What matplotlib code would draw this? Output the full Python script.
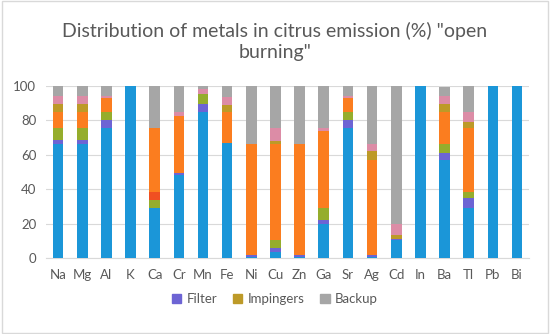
import numpy as np
import matplotlib.pyplot as plt
from matplotlib.patches import Rectangle

metals = ["Na", "Mg", "Al", "K", "Ca", "Cr", "Mn", "Fe", "Ni", "Cu",
          "Zn", "Ga", "Sr", "Ag", "Cd", "In", "Ba", "Tl", "Pb", "Bi"]

# segments from bottom to top (percent)
filter_a   = [66.3, 66.3, 75.8, 100, 29.3, 48.3, 85.1, 66.7, 0.5, 3.5,
              0.5, 19.8, 75.8, 0.5, 10.5, 100, 57.0, 29.3, 100, 100]
filter_b   = [2.3, 2.3, 4.4, 0, 0, 0.9, 4.2, 0.4, 1.0, 2.5,
              1.0, 2.3, 4.5, 1.2, 0.5, 0, 3.9, 5.4, 0, 0]
imp_green  = [6.8, 6.8, 4.9, 0, 4.4, 0, 6.3, 0, 0, 4.5,
              0, 6.8, 4.8, 0, 0, 0, 5.4, 3.5, 0, 0]
imp_red    = [0, 0, 0, 0, 4.5, 0, 0, 0, 0, 0,
              0, 0, 0, 0, 0, 0, 0, 0, 0, 0]
imp_orange = [9.7, 9.7, 8.1, 0, 37.6, 33.6, 0, 18.0, 64.8, 55.8,
              64.8, 45.0, 7.8, 55.3, 0, 0, 18.8, 37.2, 0, 0]
impingers  = [4.2, 4.2, 0, 0, 0, 0, 0, 3.9, 0, 1.9,
              0, 0, 0, 5.4, 2.3, 0, 4.3, 3.9, 0, 0]
back_pink  = [4.9, 4.9, 1.0, 0, 0, 2.3, 2.4, 4.8, 0, 7.2,
              0, 1.5, 1.0, 3.7, 6.5, 0, 4.5, 5.8, 0, 0]
backup     = [5.8, 5.8, 5.8, 0, 24.2, 14.9, 2.0, 6.2, 33.7, 24.6,
              33.7, 24.6, 6.1, 33.9, 80.2, 0, 5.8, 14.9, 0, 0]

series = [filter_a, filter_b, imp_green, imp_red, imp_orange, impingers, back_pink, backup]
colors = ["#1b96d8", "#6d64d4", "#95ad2c", "#f04f22", "#fb7d1f", "#bd9a28", "#dc8ca6", "#a6a6a6"]

plt.rcParams['font.family'] = ['Lato', 'DejaVu Sans']

fig = plt.figure(figsize=(5.5, 3.34), dpi=100)
fig.patches.append(Rectangle((0.004, 0.004), 0.992, 0.992, transform=fig.transFigure,
                             fill=False, edgecolor="#d9d9d9", linewidth=1))
ax = fig.add_axes([0.0836, 0.2275, 0.8784, 0.515])

x = np.arange(len(metals))
bottom = np.zeros(len(metals))
for vals, c in zip(series, colors):
    ax.bar(x, vals, width=0.44, bottom=bottom, color=c, zorder=3)
    bottom += np.array(vals)

ax.set_xlim(-0.5, len(metals) - 0.5)
ax.set_ylim(0, 100)
ax.set_yticks(range(0, 101, 20))
ax.set_xticks(x)
ax.set_xticklabels(metals)
ax.grid(axis="y", color="#d9d9d9", linewidth=0.8, zorder=0)
for s in ["top", "right", "left"]:
    ax.spines[s].set_visible(False)
ax.spines["bottom"].set_color("#d9d9d9")
ax.tick_params(axis="x", length=0, labelsize=9.5, colors="#595959", pad=8)
ax.tick_params(axis="y", length=0, labelsize=9.5, colors="#595959", pad=7)

fig.suptitle('Distribution of metals in citrus emission (%) "open\nburning"',
             y=0.935, fontsize=14, color="#595959", linespacing=1.3)

handles = [Rectangle((0, 0), 1, 1, color=colors[1]),
           Rectangle((0, 0), 1, 1, color=colors[5]),
           Rectangle((0, 0), 1, 1, color=colors[7])]
fig.legend(handles, ["Filter", "Impingers", "Backup"], loc="center",
           bbox_to_anchor=(0.5, 0.105), ncol=3, frameon=False, fontsize=9.5,
           handlelength=0.7, handleheight=0.7, handletextpad=0.4, columnspacing=1.2,
           labelcolor="#595959")

fig.savefig("out.png", dpi=100)
